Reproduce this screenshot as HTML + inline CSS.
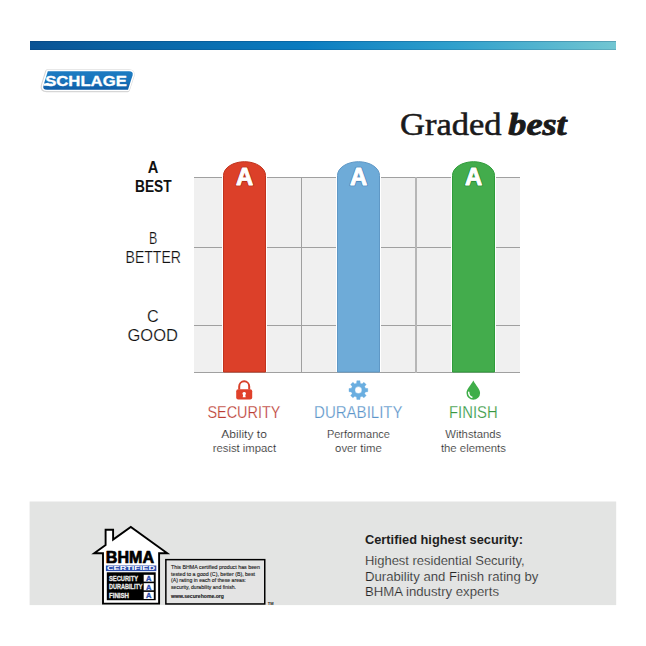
<!DOCTYPE html>
<html><head><meta charset="utf-8">
<style>
html,body{margin:0;padding:0;background:#fff;width:646px;height:646px;overflow:hidden;}
svg{display:block;}
text{font-family:"Liberation Sans",sans-serif;}
.serif{font-family:"Liberation Serif",serif;}
</style></head>
<body>
<svg width="646" height="646" viewBox="0 0 646 646">
<defs>
<linearGradient id="topbar" x1="30" x2="616" y1="0" y2="0" gradientUnits="userSpaceOnUse">
 <stop offset="0" stop-color="#0a5294"/>
 <stop offset="0.128" stop-color="#0a60a0"/>
 <stop offset="0.469" stop-color="#0a7cc0"/>
 <stop offset="0.725" stop-color="#30a0cc"/>
 <stop offset="1" stop-color="#72c6d2"/>
</linearGradient>
<linearGradient id="logog" x1="0" x2="0" y1="71" y2="90" gradientUnits="userSpaceOnUse">
 <stop offset="0" stop-color="#1d7cc2"/>
 <stop offset="0.5" stop-color="#1a74bb"/>
 <stop offset="1" stop-color="#0e5ca6"/>
</linearGradient>
</defs>
<rect width="646" height="646" fill="#fff"/>
<!-- top bar -->
<rect x="30" y="41" width="586" height="9" fill="url(#topbar)"/>
<rect x="30" y="41" width="586" height="1" fill="#0a2a50" fill-opacity="0.22"/>
<rect x="30" y="49" width="586" height="1" fill="#0a2a50" fill-opacity="0.15"/>

<!-- Schlage logo -->
<g id="logo">
 <path d="M47.8 71.2 L129 71.2 Q133.6 71.2 132.6 75.2 L128 89.5 L47 89.5 Q42.4 89.5 43.4 85.5 Z" fill="none" stroke="#d6d6d6" stroke-width="4.6" stroke-linejoin="round" transform="translate(-0.4 0.4)"/>
 <path d="M47.8 71.2 L129 71.2 Q133.6 71.2 132.6 75.2 L128 89.5 L47 89.5 Q42.4 89.5 43.4 85.5 Z" fill="#fff" stroke="#fff" stroke-width="3" stroke-linejoin="round"/>
 <path d="M47.8 71.2 L129 71.2 Q133.6 71.2 132.6 75.2 L128 89.7 L47 89.7 Q42.4 89.7 43.4 85.7 Z" fill="url(#logog)"/>
 <path d="M43.9 83.6 L52 83.6 L52 85.8 L43.3 85.8 Z" fill="#fff"/>
 <text x="45.2" y="85.6" font-size="14.2" font-weight="bold" fill="#fff" stroke="#fff" stroke-width="0.3" stroke-linejoin="round" textLength="81.6" lengthAdjust="spacingAndGlyphs">SCHLAGE</text>
</g>

<!-- Graded best -->
<text class="serif" x="400" y="134.6" font-size="31.6" fill="#1a1a1a" stroke="#1a1a1a" stroke-width="0.55" textLength="101.5" lengthAdjust="spacingAndGlyphs" style="font-family:'Liberation Serif',serif">Graded</text>
<text x="508.3" y="134.6" font-size="31.6" font-weight="bold" font-style="italic" fill="#1a1a1a" stroke="#1a1a1a" stroke-width="0.9" stroke-linejoin="round" textLength="58.3" lengthAdjust="spacingAndGlyphs" style="font-family:'Liberation Serif',serif">best</text>

<!-- grid -->
<rect x="194" y="177" width="326" height="196" fill="#f0f0f0"/>
<g fill="#a0a0a0">
 <rect x="194" y="177" width="326" height="1"/>
 <rect x="194" y="247" width="326" height="1"/>
 <rect x="194" y="325" width="326" height="1"/>
 <rect x="194" y="372" width="326" height="1"/>
 <rect x="301" y="177" width="1" height="196"/>
 <rect x="415" y="177" width="2" height="196" fill="#b6b6b6"/>
</g>

<!-- left labels -->
<g fill="#111" text-anchor="middle">
 <text x="153" y="173" font-size="16" font-weight="bold" textLength="10.6" lengthAdjust="spacingAndGlyphs">A</text>
 <text x="153.3" y="192" font-size="15.8" font-weight="bold" textLength="36.6" lengthAdjust="spacingAndGlyphs">BEST</text>
</g>
<g fill="#111" text-anchor="middle" stroke="#fff" stroke-width="0.2">
 <text x="153.1" y="243.8" font-size="16.2" textLength="8.3" lengthAdjust="spacingAndGlyphs">B</text>
 <text x="153.25" y="262.7" font-size="16.2" textLength="55.5" lengthAdjust="spacingAndGlyphs">BETTER</text>
 <text x="152.8" y="321.7" font-size="16.2">C</text>
 <text x="152.75" y="340.7" font-size="16.2" textLength="50.5" lengthAdjust="spacingAndGlyphs">GOOD</text>
</g>

<!-- bars -->
<g>
 <path d="M223.5 372 L223.5 175.5 A21.0 13.8 0 0 1 265.5 175.5 L265.5 372" fill="none" stroke="#fff" stroke-width="3"/>
 <path d="M223.5 372 L223.5 175.5 A21.0 13.8 0 0 1 265.5 175.5 L265.5 372 Z" fill="#dc4029" stroke="#c0331d" stroke-width="1"/>
 <path d="M337.5 372 L337.5 175.5 A21.0 13.8 0 0 1 379.5 175.5 L379.5 372" fill="none" stroke="#fff" stroke-width="3"/>
 <path d="M337.5 372 L337.5 175.5 A21.0 13.8 0 0 1 379.5 175.5 L379.5 372 Z" fill="#6eabd8" stroke="#5f98c6" stroke-width="1"/>
 <path d="M452.5 372 L452.5 175.5 A21.0 13.8 0 0 1 494.5 175.5 L494.5 372" fill="none" stroke="#fff" stroke-width="3"/>
 <path d="M452.5 372 L452.5 175.5 A21.0 13.8 0 0 1 494.5 175.5 L494.5 372 Z" fill="#43ac4c" stroke="#2f9c3a" stroke-width="1"/>
</g>
<g font-weight="bold" font-size="23" text-anchor="middle" stroke-linejoin="round">
 <text x="244.5" y="185" textLength="17.2" lengthAdjust="spacingAndGlyphs" fill="#b83019" stroke="#b83019" stroke-width="2.6">A</text>
 <text x="358.5" y="185" textLength="17.2" lengthAdjust="spacingAndGlyphs" fill="#4f8cc0" stroke="#4f8cc0" stroke-width="2.6">A</text>
 <text x="473.5" y="185" textLength="17.2" lengthAdjust="spacingAndGlyphs" fill="#2a9236" stroke="#2a9236" stroke-width="2.6">A</text>
</g>
<g fill="#fff" stroke="#fff" stroke-width="0.9" stroke-linejoin="round" font-weight="bold" font-size="23" text-anchor="middle">
 <text x="244.5" y="185" textLength="17.2" lengthAdjust="spacingAndGlyphs">A</text>
 <text x="358.5" y="185" textLength="17.2" lengthAdjust="spacingAndGlyphs">A</text>
 <text x="473.5" y="185" textLength="17.2" lengthAdjust="spacingAndGlyphs">A</text>
</g>

<!-- icons -->
<!-- lock -->
<g>
 <path d="M239.2 389.5 L239.2 386.5 A5 5.2 0 0 1 249.2 386.5 L249.2 389.5" fill="none" stroke="#d8412a" stroke-width="2"/>
 <rect x="236.2" y="389.3" width="16" height="10.3" rx="2" fill="#e0412b"/>
 <path d="M244.2 391.9 a1.8 1.8 0 0 1 1.1 3.2 l0.4 2.1 h-3 l0.4 -2.1 a1.8 1.8 0 0 1 1.1 -3.2z" fill="#fff"/>
</g>
<!-- gear -->
<path d="M356.60 383.13 L356.83 380.73 L359.97 380.73 L360.20 383.13 L362.05 383.90 L363.92 382.37 L366.13 384.58 L364.60 386.45 L365.37 388.30 L367.77 388.53 L367.77 391.67 L365.37 391.90 L364.60 393.75 L366.13 395.62 L363.92 397.83 L362.05 396.30 L360.20 397.07 L359.97 399.47 L356.83 399.47 L356.60 397.07 L354.75 396.30 L352.88 397.83 L350.67 395.62 L352.20 393.75 L351.43 391.90 L349.03 391.67 L349.03 388.53 L351.43 388.30 L352.20 386.45 L350.67 384.58 L352.88 382.37 L354.75 383.90 Z M361.90 390.1 A3.5 3.5 0 1 0 354.90 390.1 A3.5 3.5 0 1 0 361.90 390.1 Z" fill="#6aaee0" fill-rule="evenodd" stroke="#6aaee0" stroke-width="0.4" stroke-linejoin="round"/>
<!-- drop -->
<g>
 <path d="M473.3 380.4 C471 385 466.5 389 466.5 392.9 A6.8 6.8 0 0 0 480.1 392.9 C480.1 389 475.6 385 473.3 380.4 Z" fill="#3fae49"/>
 <path d="M468.7 392.3 C468.7 394.9 469.9 396.6 471.8 397.3" fill="none" stroke="#fff" stroke-width="1.5" stroke-linecap="round"/>
</g>

<!-- category titles -->
<g font-size="17.4" text-anchor="middle" stroke="#fff" stroke-width="0.25">
 <text x="243.9" y="418" fill="#bb3d33" textLength="73" lengthAdjust="spacingAndGlyphs">SECURITY</text>
 <text x="358.3" y="418" fill="#5c95ca" textLength="88.5" lengthAdjust="spacingAndGlyphs">DURABILITY</text>
 <text x="473.3" y="418" fill="#369741" textLength="48.6" lengthAdjust="spacingAndGlyphs">FINISH</text>
</g>
<g font-size="11" text-anchor="middle" fill="#262626" stroke="#fff" stroke-width="0.18">
 <text x="244.1" y="437.6" textLength="45.6" lengthAdjust="spacingAndGlyphs">Ability to</text>
 <text x="244.45" y="451.6" textLength="63.5" lengthAdjust="spacingAndGlyphs">resist impact</text>
 <text x="358.4" y="437.6" textLength="63" lengthAdjust="spacingAndGlyphs">Performance</text>
 <text x="358.4" y="451.6" textLength="46.6" lengthAdjust="spacingAndGlyphs">over time</text>
 <text x="473.25" y="437.6" textLength="55.9" lengthAdjust="spacingAndGlyphs">Withstands</text>
 <text x="473.4" y="451.6" textLength="65" lengthAdjust="spacingAndGlyphs">the elements</text>
</g>

<!-- bottom panel -->
<rect x="29.6" y="501.5" width="586.6" height="103.6" fill="#e3e4e3"/>

<!-- BHMA logo -->
<g id="bhma">
 <path d="M103 603.6 L103 553.2 L94.2 553.2 L105.6 545 L105.6 529.8 L113.1 529.8 L113.1 539.6 L130.8 527 L167.3 553.2 L159.1 553.2 L159.1 603.6 Z" fill="#fff" stroke="#000" stroke-width="1.9" stroke-linejoin="miter"/>
 <text x="105.8" y="563.3" font-size="16" font-weight="bold" fill="#000" stroke="#000" stroke-width="0.7" stroke-linejoin="round" textLength="48.2" lengthAdjust="spacingAndGlyphs">BHMA</text>
 <rect x="105.9" y="565.5" width="50.4" height="5.6" fill="#2d4fb0"/>
 <text x="107" y="570.4" font-size="5.8" font-weight="bold" fill="#fff" textLength="48" lengthAdjust="spacingAndGlyphs">CERTIFIED</text>
 <rect x="106.8" y="572.3" width="48.9" height="27.9" fill="#000"/>
 <g fill="#fff">
  <rect x="143.7" y="574.8" width="10.1" height="6.8"/>
  <rect x="143.7" y="583.2" width="10.1" height="7.1"/>
  <rect x="143.7" y="591.9" width="10.1" height="7.1"/>
 </g>
 <g fill="#2d4fb0" stroke="#2d4fb0" stroke-width="0.35" font-size="7.5" font-weight="bold" text-anchor="middle">
  <text x="148.75" y="580.9">A</text>
  <text x="148.75" y="589.5">A</text>
  <text x="148.75" y="598.2">A</text>
 </g>
 <g fill="#e6e6e6" stroke="#e6e6e6" stroke-width="0.3" font-size="6.3" font-weight="bold">
  <text x="109" y="580.8" textLength="29" lengthAdjust="spacingAndGlyphs">SECURITY</text>
  <text x="109" y="589.4" textLength="33.5" lengthAdjust="spacingAndGlyphs">DURABILITY</text>
  <text x="109" y="598.1" textLength="20" lengthAdjust="spacingAndGlyphs">FINISH</text>
 </g>
 <rect x="165.85" y="559.65" width="98.9" height="44.3" fill="#e4e4e4" stroke="#000" stroke-width="1.5"/>
 <g fill="#1a1a1a" stroke="#1a1a1a" stroke-width="0.12" font-size="5.3">
  <text x="171" y="569.4" textLength="89" lengthAdjust="spacingAndGlyphs">This BHMA certified product has been</text>
  <text x="171" y="575.9" textLength="84" lengthAdjust="spacingAndGlyphs">tested to a good (C), better (B), best</text>
  <text x="171" y="582.4" textLength="75" lengthAdjust="spacingAndGlyphs">(A) rating in each of these areas:</text>
  <text x="171" y="588.9" textLength="65" lengthAdjust="spacingAndGlyphs">security, durability and finish.</text>
  <text x="171" y="598.2" font-weight="bold" textLength="53" lengthAdjust="spacingAndGlyphs">www.securehome.org</text>
 </g>
 <text x="267.8" y="604.6" font-size="4" font-weight="bold" fill="#222">TM</text>
</g>

<!-- right text -->
<text x="365" y="543.6" font-size="12.4" font-weight="bold" fill="#1e1e1e" textLength="158" lengthAdjust="spacingAndGlyphs">Certified highest security:</text>
<g font-size="12.4" fill="#262626" stroke="#e3e4e3" stroke-width="0.18">
 <text x="365" y="564.9" textLength="159.7" lengthAdjust="spacingAndGlyphs">Highest residential Security,</text>
 <text x="365" y="580.6" textLength="173.3" lengthAdjust="spacingAndGlyphs">Durability and Finish rating by</text>
 <text x="365" y="596.4" textLength="134" lengthAdjust="spacingAndGlyphs">BHMA industry experts</text>
</g>
</svg>
</body></html>
